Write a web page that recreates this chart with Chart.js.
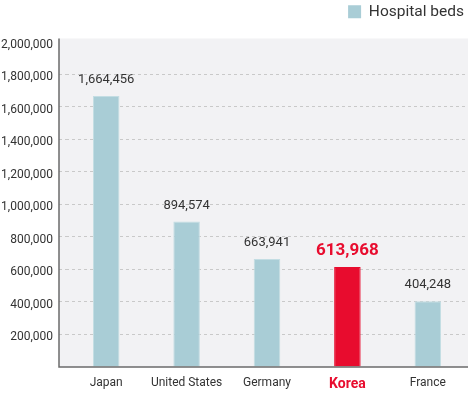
<!DOCTYPE html>
<html>
<head>
<meta charset="utf-8">
<script src="https://cdn.jsdelivr.net/npm/chart.js@4"></script>
<style>
  html, body { margin: 0; padding: 0; background: #fff; }
  #wrap { width: 468px; height: 394px; }
</style>
</head>
<body>
<div id="wrap"><canvas id="chart"></canvas></div>
<script>
    "use strict";
    const countries = ["Japan", "United States", "Germany", "Korea", "France"];
    const beds = [1664456, 894574, 663941, 613968, 404248];
    const highlight = "Korea";
    const yTicks = [200000, 400000, 600000, 800000, 1000000, 1200000, 1400000, 1600000, 1800000, 2000000];

    const BAR = "#a9cdd6";
    const RED = "#e80c2e";
    const TEXT = "#333333";
    const FONT = "Roboto, 'Liberation Sans', sans-serif";

    const isHi = (i) => countries[i] === highlight;

    const bgPlugin = {
        id: "bg",
        afterInit(chart) {
            // leave extra room under the legend
            const lg = chart.legend;
            if (lg) {
                const fit = lg.fit;
                lg.fit = function () { fit.call(this); this.height += 12; };
            }
        },
        beforeDraw(chart) {
            const { ctx, chartArea: a } = chart;
            ctx.save();
            ctx.fillStyle = "#f2f2f4";
            ctx.fillRect(a.left - 7, a.top - 3, a.right - a.left + 7, a.bottom - a.top + 3);
            ctx.restore();
        },
        afterDatasetsDraw(chart) {
            const { ctx, chartArea: a } = chart;
            ctx.save();
            ctx.strokeStyle = "#6b6b6b";
            ctx.lineWidth = 1.5;
            ctx.beginPath();
            ctx.moveTo(a.left - 7, a.top - 3);
            ctx.lineTo(a.left - 7, a.bottom);
            ctx.lineTo(a.right, a.bottom);
            ctx.stroke();

            // value labels above the bars
            const meta = chart.getDatasetMeta(0);
            ctx.textAlign = "center";
            ctx.textBaseline = "middle";
            meta.data.forEach((bar, i) => {
                if (isHi(i)) {
                    ctx.fillStyle = RED;
                    ctx.font = "bold 17px " + FONT;
                } else {
                    ctx.fillStyle = TEXT;
                    ctx.font = "13px " + FONT;
                }
                ctx.fillText(beds[i].toLocaleString("en-US"), bar.x, bar.y - 16);
            });
            ctx.restore();
        },
    };

    new Chart(document.getElementById("chart"), {
        type: "bar",
        data: {
            labels: countries,
            datasets: [{
                label: "Hospital beds",
                data: beds,
                backgroundColor: countries.map((c, i) => isHi(i) ? RED : BAR),
                borderColor: countries.map((c, i) => isHi(i) ? RED : "#c3dde3"),
                borderWidth: 1,
                borderSkipped: "bottom",
                barPercentage: 0.33,
                categoryPercentage: 1,
            }],
        },
        options: {
            responsive: true,
            maintainAspectRatio: false,
            animation: false,
            layout: { padding: 0 },
            plugins: {
                legend: {
                    position: "top",
                    align: "end",
                    labels: {
                        boxWidth: 13,
                        boxHeight: 13,
                        padding: 4,
                        color: TEXT,
                        font: { family: FONT, size: 15.5 },
                        generateLabels: () => [{ text: "Hospital beds", fillStyle: BAR, strokeStyle: BAR, lineWidth: 0, fontColor: TEXT }],
                    },
                },
                tooltip: { enabled: false },
            },
            scales: {
                x: {
                    grid: { display: false, drawTicks: false },
                    border: { display: false },
                    ticks: {
                        padding: 9,
                        color: (c) => isHi(c.index) ? RED : TEXT,
                        font: (c) => isHi(c.index) ? { family: FONT, size: 14, weight: "bold" } : { family: FONT, size: 12 },
                    },
                    afterFit: (s) => { s.height = 27; },
                },
                y: {
                    min: 0,
                    max: 2000000,
                    afterBuildTicks: (s) => { s.ticks = [0].concat(yTicks).map((v) => ({ value: v })); },
                    grid: {
                        color: (c) => (c.tick && (c.tick.value === 0 || c.tick.value === 2000000)) ? "rgba(0,0,0,0)" : "#c9c9c9",
                        tickBorderDash: [3, 3],
                        tickLength: 7,
                        lineWidth: 1,
                    },
                    border: { display: false, dash: [3, 3] },
                    ticks: {
                        padding: 6,
                        labelOffset: 3,
                        color: TEXT,
                        font: { family: FONT, size: 12 },
                        callback: (v) => v === 0 ? "" : v.toLocaleString("en-US"),
                    },
                    afterFit: (s) => { s.width = 66; },
                },
            },
        },
        plugins: [bgPlugin],
    });
</script>
</body>
</html>
